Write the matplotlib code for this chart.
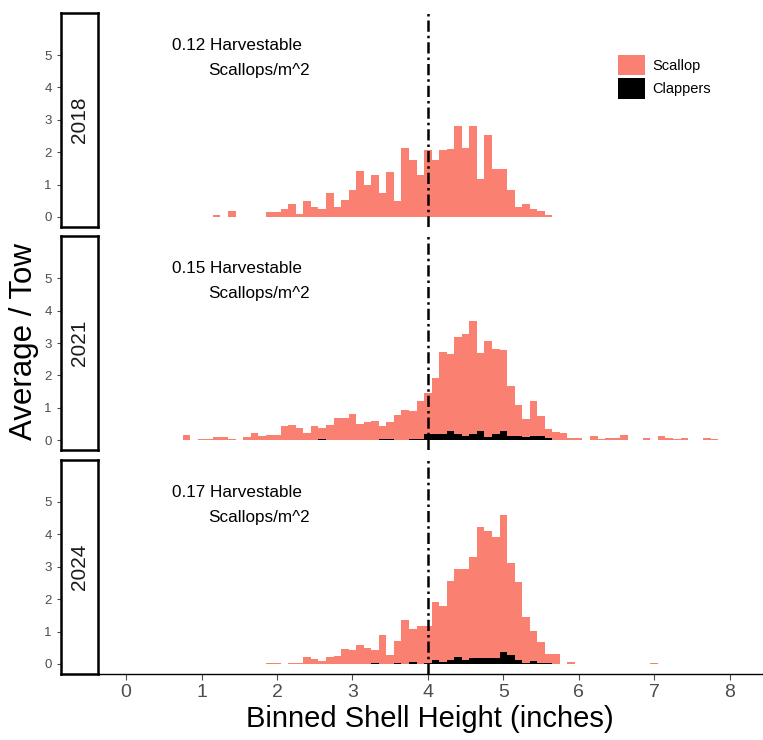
import numpy as np
import matplotlib
matplotlib.use("Agg")
import matplotlib.pyplot as plt
from matplotlib.patches import Patch

plt.rcParams['font.family'] = ['Liberation Sans', 'DejaVu Sans']

# ---- data (bin centre in inches -> average per tow) ----
years = ["2018", "2021", "2024"]
harvestable = [0.12, 0.15, 0.17]

sh_2018 = [1.2, 1.4, 1.9, 2.0, 2.1, 2.2, 2.3, 2.4, 2.5, 2.6, 2.7, 2.8, 2.9, 3.0,
           3.1, 3.2, 3.3, 3.4, 3.5, 3.6, 3.7, 3.8, 3.9, 4.0, 4.1, 4.2, 4.3, 4.4,
           4.5, 4.6, 4.7, 4.8, 4.9, 5.0, 5.1, 5.2, 5.3, 5.4, 5.5, 5.6]
scallop_2018 = [0.05, 0.2, 0.14, 0.14, 0.24, 0.40, 0.10, 0.48, 0.32, 0.24, 0.75,
                0.32, 0.53, 0.83, 1.43, 1.0, 1.3, 0.75, 1.38, 0.49, 2.14, 1.77,
                1.3, 2.06, 1.77, 2.06, 2.1, 2.82, 2.14, 2.82, 1.17, 2.54, 1.47,
                1.47, 0.83, 0.32, 0.4, 0.24, 0.2, 0.06]
clap_sh_2018 = []
clappers_2018 = []

sh_2021 = [0.8, 1.0, 1.1, 1.2, 1.3, 1.4, 1.6, 1.7, 1.8, 1.9, 2.0, 2.1, 2.2, 2.3,
           2.4, 2.5, 2.6, 2.7, 2.8, 2.9, 3.0, 3.1, 3.2, 3.3, 3.4, 3.5, 3.6, 3.7,
           3.8, 3.9, 4.0, 4.1, 4.2, 4.3, 4.4, 4.5, 4.6, 4.7, 4.8, 4.9, 5.0, 5.1,
           5.2, 5.3, 5.4, 5.5, 5.6, 5.7, 5.8, 5.9, 6.0, 6.2, 6.3, 6.4, 6.5, 6.6,
           6.9, 7.1, 7.2, 7.3, 7.4, 7.7, 7.8]
scallop_2021 = [0.16, 0.05, 0.05, 0.09, 0.09, 0.05, 0.09, 0.21, 0.13, 0.17, 0.17,
                0.43, 0.47, 0.39, 0.21, 0.43, 0.39, 0.47, 0.69, 0.69, 0.81, 0.51,
                0.55, 0.59, 0.43, 0.55, 0.77, 0.94, 0.9, 1.2, 1.46, 1.92, 2.72,
                2.66, 3.19, 3.29, 3.67, 2.7, 3.06, 2.81, 2.77, 1.66, 1.1, 0.65,
                1.2, 0.75, 0.35, 0.27, 0.22, 0.07, 0.07, 0.12, 0.03, 0.07, 0.07,
                0.17, 0.07, 0.12, 0.07, 0.03, 0.07, 0.07, 0.03]
clap_sh_2021 = [2.6, 3.4, 3.5, 3.8, 3.9, 4.0, 4.1, 4.2, 4.3, 4.4, 4.5, 4.6, 4.7,
                4.8, 4.9, 5.0, 5.1, 5.2, 5.3, 5.4, 5.5, 5.6]
clappers_2021 = [0.04, 0.04, 0.04, 0.05, 0.05, 0.2, 0.19, 0.19, 0.29, 0.19, 0.14,
                 0.19, 0.29, 0.1, 0.19, 0.29, 0.14, 0.14, 0.1, 0.14, 0.14, 0.06]

sh_2024 = [1.9, 2.0, 2.2, 2.3, 2.4, 2.5, 2.6, 2.7, 2.8, 2.9, 3.0, 3.1, 3.2, 3.3,
           3.4, 3.5, 3.6, 3.7, 3.8, 3.9, 4.0, 4.1, 4.2, 4.3, 4.4, 4.5, 4.6, 4.7,
           4.8, 4.9, 5.0, 5.1, 5.2, 5.3, 5.4, 5.5, 5.6, 5.7, 5.9, 7.0]
scallop_2024 = [0.03, 0.03, 0.03, 0.03, 0.21, 0.16, 0.08, 0.21, 0.26, 0.46, 0.42,
                0.58, 0.5, 0.42, 0.88, 0.28, 0.72, 1.35, 1.09, 1.18, 1.18, 1.9,
                1.78, 2.55, 2.92, 2.92, 3.31, 4.23, 4.1, 3.91, 4.59, 3.12, 2.52,
                1.44, 1.02, 0.68, 0.31, 0.31, 0.06, 0.03]
clap_sh_2024 = [3.3, 3.6, 3.8, 4.0, 4.1, 4.2, 4.3, 4.4, 4.5, 4.6, 4.7, 4.8, 4.9,
                5.0, 5.1, 5.2, 5.3, 5.4, 5.5, 5.6]
clappers_2024 = [0.03, 0.03, 0.06, 0.03, 0.13, 0.07, 0.13, 0.22, 0.11, 0.19,
                 0.19, 0.19, 0.19, 0.36, 0.29, 0.13, 0.02, 0.1, 0.02, 0.02]

panels = [
    (sh_2018, scallop_2018, clap_sh_2018, clappers_2018),
    (sh_2021, scallop_2021, clap_sh_2021, clappers_2021),
    (sh_2024, scallop_2024, clap_sh_2024, clappers_2024),
]

SALMON = "#FA8072"
GREY = "#4D4D4D"
W, H = 763, 740

fig = plt.figure(figsize=(W / 100, H / 100), dpi=100)

# panel rows in pixels (top, bottom)
rows = [(13, 226.7), (236, 450), (459.7, 673.7)]
x_left, x_right = 97.5, 762
strip_left = 60.7
ylim = (-0.3, 6.3)
xlim = (-0.38, 8.43)

for i, (top, bot) in enumerate(rows):
    b = 1 - bot / H
    h = (bot - top) / H
    ax = fig.add_axes([x_left / W, b, (x_right - x_left) / W, h])
    sh, sc, csh, cl = panels[i]
    ax.bar(sh, sc, width=0.1, color=SALMON, linewidth=0)
    if cl:
        ax.bar(csh, cl, width=0.1, color="black", linewidth=0)
    ax.axvline(4, color="black", linewidth=1.8, linestyle=(0, (4.5, 1.6, 1, 1.6)))
    ax.set_xlim(*xlim)
    ax.set_ylim(*ylim)
    ax.set_yticks([])
    for s in ["top", "right", "left"]:
        ax.spines[s].set_visible(False)
    if i < 2:
        ax.spines["bottom"].set_visible(False)
        ax.set_xticks([])
    else:
        ax.spines["bottom"].set_linewidth(1.0)
        ax.set_xticks(range(0, 9))
        ax.tick_params(axis="x", colors=GREY, labelsize=14, length=4, width=0.8)
        ax.set_xlabel("Binned Shell Height (inches)", fontsize=21, labelpad=3)

    ax.text(0.61, 5.3, f"{harvestable[i]} Harvestable", fontsize=12.3,
            ha="left", va="center")
    ax.text(1.09, 4.52, "Scallops/m^2", fontsize=12.3, ha="left", va="center")

    # strip on the left that also carries the y axis
    sax = fig.add_axes([strip_left / W, b, (x_left - strip_left) / W, h])
    sax.set_ylim(*ylim)
    sax.set_xticks([])
    sax.set_yticks(range(0, 6))
    sax.tick_params(axis="y", colors=GREY, labelsize=9.5, length=3, width=0.8)
    for s in sax.spines.values():
        s.set_linewidth(1.8)
    sax.text(0.5, 0.5, years[i], rotation=90, fontsize=15, ha="center",
             va="center", transform=sax.transAxes, color="#1A1A1A")

fig.text(24 / W, 1 - 341 / H, "Average / Tow", rotation=90, fontsize=22.5,
         ha="center", va="center")

handles = [Patch(facecolor=SALMON, label="Scallop"),
           Patch(facecolor="black", label="Clappers")]
fig.legend(handles=handles, loc="upper left", bbox_to_anchor=(611 / W, 1 - 48 / H),
           frameon=False, fontsize=10.5, handlelength=1.8, handleheight=1.75,
           labelspacing=0.2, borderpad=0, handletextpad=0.55)

fig.savefig("out.png", dpi=100)
